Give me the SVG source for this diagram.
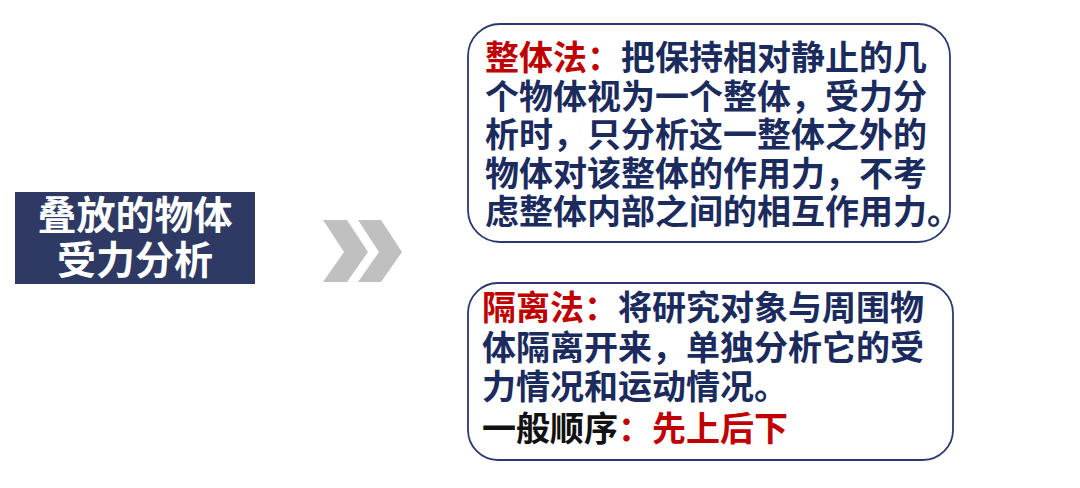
<svg xmlns="http://www.w3.org/2000/svg" width="1080" height="488" viewBox="0 0 1080 488">
<style>
.t{font-family:"Noto Sans CJK SC","Liberation Sans",sans-serif;font-weight:bold;font-size:34px;fill:#1B2B5E}
.r{fill:#C00000}
.k{fill:#111111}
.title{font-family:"Noto Sans CJK SC","Liberation Sans",sans-serif;font-weight:bold;font-size:39px;fill:#FFFFFF}
.box{fill:#FFFFFF;stroke:#2A3A70;stroke-width:1.8}
</style>
<rect width="1080" height="488" fill="#FFFFFF"/>
<g id="title">
<rect x="15" y="192" width="240" height="92" fill="#2E3A64"/>
<text class="title" text-anchor="middle"><tspan x="135" y="229">叠放的物体</tspan><tspan x="135" y="274">受力分析</tspan></text>
</g>
<g id="connectors">
<polygon points="323,220 347,220 368,252 347,282 323,282 344,252" fill="#C0C0C0"/>
<polygon points="358,220 381,220 402,252 381,282 358,282 379,252" fill="#C0C0C0"/>
</g>
<g id="whole">
<rect class="box" x="468" y="24" width="482" height="218" rx="32"/>
<text class="t"><tspan x="485" y="70" class="r">整体法：</tspan><tspan>把保持相对静止的几</tspan><tspan x="485" y="109">个物体视为一个整体，受力分</tspan><tspan x="485" y="147">析时，只分析这一整体之外的</tspan><tspan x="485" y="186">物体对该整体的作用力，不考</tspan><tspan x="485" y="224">虑整体内部之间的相互作用力。</tspan></text>
</g>
<g id="isolate">
<rect class="box" x="468" y="283" width="485" height="177" rx="30"/>
<text class="t"><tspan x="482" y="320" class="r">隔离法：</tspan><tspan>将研究对象与周围物</tspan><tspan x="482" y="360">体隔离开来，单独分析它的受</tspan><tspan x="482" y="399">力情况和运动情况。</tspan><tspan x="482" y="441" class="k">一般顺序</tspan><tspan class="r">：先上后下</tspan></text>
</g>
</svg>
